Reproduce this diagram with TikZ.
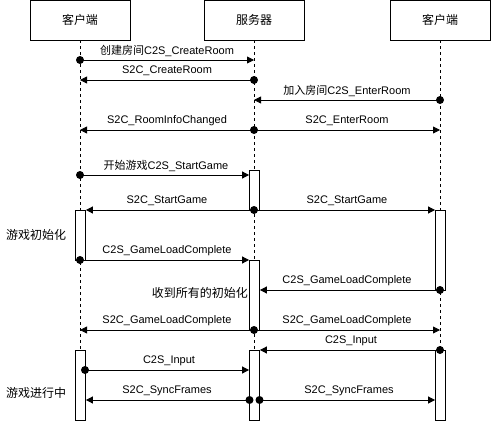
\documentclass[tikz,border=0pt]{standalone}
\usepackage{fontspec}
\setmainfont{Liberation Sans}
\newfontfamily\cjk{Noto Sans CJK SC}
\usetikzlibrary{arrows.meta}
\begin{document}
\begin{tikzpicture}[x=1pt,y=-1pt,
  actor/.style={draw, fill=white, line width=0.8pt, minimum width=100pt, minimum height=40pt, inner sep=0pt, font=\cjk\fontsize{12}{14}\selectfont},
  life/.style={line width=0.7pt, dash pattern=on 3pt off 3pt},
  actbox/.style={draw, fill=white, line width=0.8pt, minimum width=10pt, inner sep=0pt},
  msg/.style={line width=0.8pt, -{Triangle[length=7pt,width=7pt]}},
  dot/.style={circle, fill=black, minimum size=8pt, inner sep=0pt},
  lbl/.style={inner sep=0pt, font=\fontsize{11}{13}\selectfont},
  side/.style={inner sep=0pt, font=\cjk\fontsize{12}{14}\selectfont}]
\useasboundingbox (0,0) rectangle (491,421);
% actors
\node[actor] (c1) at (80,20) {客户端};
\node[actor] (sv) at (254,20) {服务器};
\node[actor] (c2) at (440,20) {客户端};
% lifelines
\coordinate (e1) at (80,421);
\coordinate (e2) at (254,421);
\coordinate (e3) at (440,421);
\draw[life] (c1.south) -- (e1);
\draw[life] (sv.south) -- (e2);
\draw[life] (c2.south) -- (e3);
% activations
\node[actbox, minimum height=40pt] (ac1) at (254.5,190) {};
\node[actbox, minimum height=50pt] (ac2) at (80.5,235) {};
\node[actbox, minimum height=80pt] (ac3) at (440.5,250) {};
\node[actbox, minimum height=70pt] (ac4) at (254.5,295) {};
\node[actbox, minimum height=70pt] (ac5) at (80.5,385) {};
\node[actbox, minimum height=70pt] (ac6) at (254.5,385) {};
\node[actbox, minimum height=70pt] (ac7) at (440.5,385) {};
% messages
\node[dot] (d1) at (80,60) {};
\draw[msg] (d1.center) -- (sv |- d1);
\node[lbl] (l1) at (167,51) {{\cjk 创建房间}C2S\_CreateRoom};

\node[dot] (d2) at (254,80) {};
\draw[msg] (d2.center) -- (c1 |- d2);
\node[lbl] (l2) at (167,71) {S2C\_CreateRoom};

\node[dot] (d3) at (440,100) {};
\draw[msg] (d3.center) -- (sv |- d3);
\node[lbl] (l3) at (347,91) {{\cjk 加入房间}C2S\_EnterRoom};

\node[dot] (d4) at (254,130) {};
\draw[msg] (d4.center) -- (c1 |- d4);
\draw[msg] (d4.center) -- (c2 |- d4);
\node[lbl] (l4a) at (167,121) {S2C\_RoomInfoChanged};
\node[lbl] (l4b) at (347,121) {S2C\_EnterRoom};

\node[dot] (d5) at (80,175) {};
\draw[msg] (d5.center) -- (ac1.west |- d5);
\node[lbl] (l5) at (166,166) {{\cjk 开始游戏}C2S\_StartGame};

\node[dot] (d6) at (254,210) {};
\draw[msg] (d6.center) -- (ac2.east |- d6);
\draw[msg] (d6.center) -- (ac3.west |- d6);
\node[lbl] (l6a) at (167,201) {S2C\_StartGame};
\node[lbl] (l6b) at (347,201) {S2C\_StartGame};

\node[side] (s1) at (36,235) {游戏初始化};

\node[dot] (d7) at (80,260) {};
\draw[msg] (d7.center) -- (ac4.west |- d7);
\node[lbl] (l7) at (167,251) {C2S\_GameLoadComplete};

\node[dot] (d8) at (440,290) {};
\draw[msg] (d8.center) -- (ac4.east |- d8);
\node[lbl] (l8) at (347,281) {C2S\_GameLoadComplete};
\node[side, anchor=east] (s2) at (248,293) {收到所有的初始化};

\node[dot] (d9) at (254,330) {};
\draw[msg] (d9.center) -- (c1 |- d9);
\draw[msg] (d9.center) -- (c2 |- d9);
\node[lbl] (l9a) at (167,321) {S2C\_GameLoadComplete};
\node[lbl] (l9b) at (347,321) {S2C\_GameLoadComplete};

\node[dot] (d10) at (440,350) {};
\draw[msg] (d10.center) -- (ac6.east |- d10);
\node[lbl] (l10) at (351,341) {C2S\_Input};

\node[dot] (d11) at (85,370) {};
\draw[msg] (d11.center) -- (ac6.west |- d11);
\node[lbl] (l11) at (169,361) {C2S\_Input};

\node[dot] (d12a) at (249.5,400) {};
\node[dot] (d12b) at (259.5,400) {};
\draw[msg] (d12a.center) -- (ac5.east |- d12a);
\draw[msg] (d12b.center) -- (ac7.west |- d12b);
\node[lbl] (l12a) at (167,391) {S2C\_SyncFrames};
\node[lbl] (l12b) at (349,391) {S2C\_SyncFrames};

\node[side] (s3) at (36,393) {游戏进行中};
\end{tikzpicture}
\end{document}
